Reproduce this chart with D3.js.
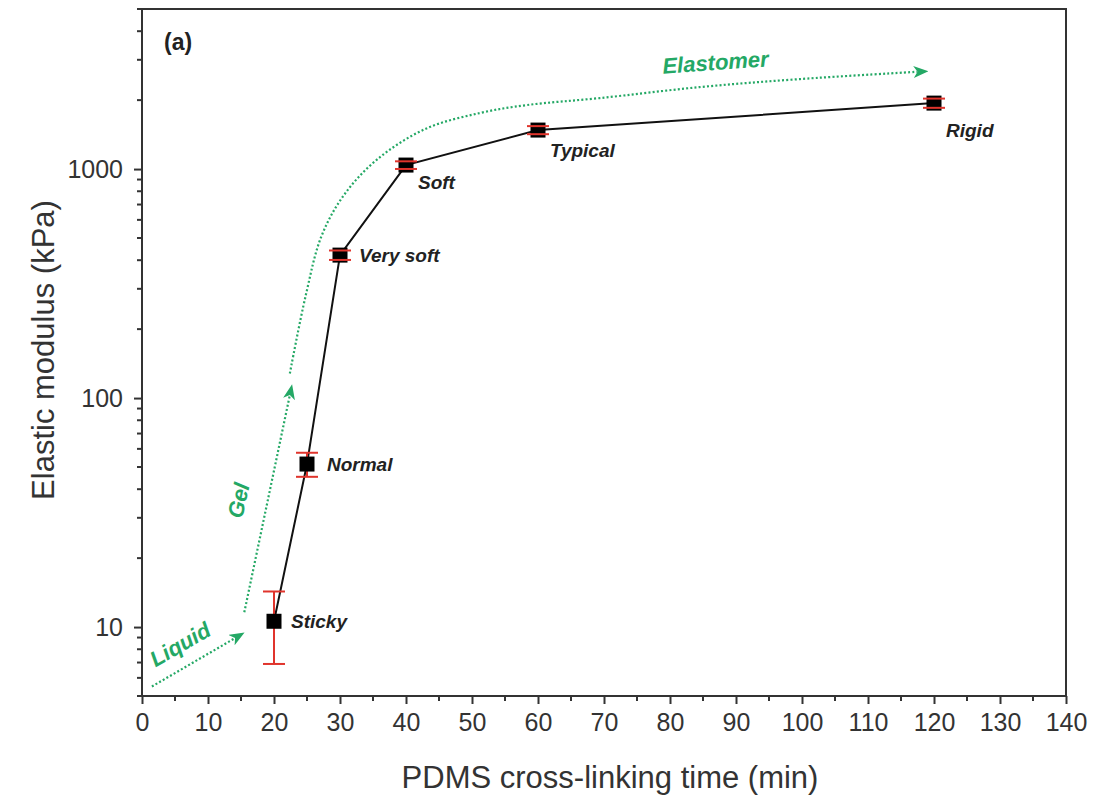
<!DOCTYPE html>
<html>
<head>
<meta charset="utf-8">
<script src="https://cdn.jsdelivr.net/npm/d3@7"></script>
<style>
  body { margin: 0; background: #fff; }
  text { font-family: "Liberation Sans", Arial, sans-serif; }
</style>
</head>
<body>
<svg id="chart" width="1096" height="805"></svg>
<script>

// measured samples
const times = [20, 25, 30, 40, 60, 120];
const moduli = [10.6, 51.5, 421, 1041, 1480, 1941];
const errors = [3.7, 6.2, 20, 40, 60, 90];
const names = ["Sticky", "Normal", "Very soft", "Soft", "Typical", "Rigid"];

const xTicks = [0, 10, 20, 30, 40, 50, 60, 70, 80, 90, 100, 110, 120, 130, 140];
const yTicks = [10, 100, 1000];

// green phase annotations, in data units [min, kPa]
const liquidPath = [[1.5, 5.5], [14.1, 8.95]];
const gelPath = [[15.5, 11.6], [22.4, 103]];
const elastomerPath = [[22.4, 128], [24.8, 280], [27.2, 510], [30.6, 770], [35.6, 1100],
  [43.0, 1500], [51.2, 1757], [58.3, 1903], [69.4, 2042], [84.5, 2280], [99.7, 2472], [117.5, 2660]];

const data = times.map((t, i) => ({t, v: moduli[i], e: errors[i], name: names[i]}));

const m = {left: 142, right: 1066, top: 9, bottom: 696};
const green = "#24a865";

const svg = d3.select("#chart");

const x = d3.scaleLinear().domain([0, 140]).range([m.left, m.right]);
const y = d3.scaleLog().domain([5, 5000]).range([m.bottom, m.top]);

// label offsets from each point (px)
const labelOff = {
  "Sticky": [17, 7], "Normal": [20, 7], "Very soft": [19, 7],
  "Soft": [12, 24], "Typical": [12, 27], "Rigid": [12, 34]
};

// frame
svg.append("rect")
    .attr("x", m.left).attr("y", m.top)
    .attr("width", m.right - m.left).attr("height", m.bottom - m.top)
    .attr("fill", "none").attr("stroke", "#333").attr("stroke-width", 2);

// x axis
const xMinor = d3.range(5, 140, 10);
const gx = svg.append("g").attr("transform", `translate(0,${m.bottom})`);
gx.call(d3.axisBottom(x).tickValues(xTicks).tickSize(8).tickPadding(9).tickFormat(d3.format("d")));
gx.append("g").selectAll("line").data(xMinor).join("line")
    .attr("x1", d => x(d)).attr("x2", d => x(d))
    .attr("y1", 0).attr("y2", 5)
    .attr("stroke", "#333").attr("stroke-width", 2);

// y axis
const yMinor = [];
[1, 10, 100, 1000].forEach(dec => d3.range(2, 10).forEach(k => {
  const v = dec * k;
  if (v >= 5 && v <= 5000) yMinor.push(v);
}));
const gy = svg.append("g").attr("transform", `translate(${m.left},0)`);
gy.call(d3.axisLeft(y).tickValues(yTicks).tickSize(8).tickPadding(11).tickFormat(d3.format("d")));
gy.append("g").selectAll("line").data(yMinor).join("line")
    .attr("x1", 0).attr("x2", -5)
    .attr("y1", d => y(d)).attr("y2", d => y(d))
    .attr("stroke", "#333").attr("stroke-width", 2);

[gx, gy].forEach(g => {
  g.select(".domain").remove();
  g.selectAll(".tick line").attr("stroke", "#333").attr("stroke-width", 2);
  g.selectAll(".tick text").attr("fill", "#333")
      .style("font-family", "'Liberation Sans', Arial, sans-serif").style("font-size", "25px");
});

// axis titles
svg.append("text")
    .attr("x", 610).attr("y", 788)
    .attr("text-anchor", "middle").attr("fill", "#333")
    .style("font-size", "31px")
    .text("PDMS cross-linking time (min)");

svg.append("text")
    .attr("transform", `translate(54,350) rotate(-90)`)
    .attr("text-anchor", "middle").attr("fill", "#333")
    .style("font-size", "31px")
    .text("Elastic modulus (kPa)");

svg.append("text")
    .attr("x", 164).attr("y", 50)
    .attr("fill", "#222").style("font-size", "23px").style("font-weight", "bold")
    .text("(a)");

// arrow marker
svg.append("defs").append("marker")
    .attr("id", "arrow")
    .attr("viewBox", "0 -6 15 12")
    .attr("refX", 4).attr("refY", 0)
    .attr("markerWidth", 15).attr("markerHeight", 12)
    .attr("markerUnits", "userSpaceOnUse")
    .attr("orient", "auto")
  .append("path")
    .attr("d", "M0,-6 L15,0 L0,6 L4,0 Z")
    .attr("fill", green);

const pline = d3.line().x(d => x(d[0])).y(d => y(d[1]));
const cline = d3.line().x(d => x(d[0])).y(d => y(d[1])).curve(d3.curveCatmullRom);

[[liquidPath, pline], [gelPath, pline], [elastomerPath, cline]].forEach(([p, ln]) => {
  svg.append("path")
      .attr("d", ln(p))
      .attr("fill", "none")
      .attr("stroke", green)
      .attr("stroke-width", 2.2)
      .attr("stroke-dasharray", "2,2.2")
      .attr("marker-end", "url(#arrow)");
});

function angleOf(p) {
  const a = p[0], b = p[p.length - 1];
  return Math.atan2(y(b[1]) - y(a[1]), x(b[0]) - x(a[0])) * 180 / Math.PI;
}

const phaseText = [
  {text: "Liquid", cx: 184, cy: 651, rot: angleOf(liquidPath)},
  {text: "Gel", cx: 246, cy: 502, rot: angleOf(gelPath)},
  {text: "Elastomer", cx: 716, cy: 70, rot: -4}
];
svg.append("g").selectAll("text").data(phaseText).join("text")
    .attr("transform", d => `translate(${d.cx},${d.cy}) rotate(${d.rot})`)
    .attr("text-anchor", "middle")
    .attr("fill", green)
    .style("font-size", "22px").style("font-weight", "bold").style("font-style", "italic")
    .text(d => d.text);

// data line
svg.append("path")
    .datum(data)
    .attr("d", d3.line().x(d => x(d.t)).y(d => y(d.v)))
    .attr("fill", "none").attr("stroke", "#111").attr("stroke-width", 2);

// error bar stems
const red = "#e0342c";
svg.append("g").selectAll("line").data(data).join("line")
    .attr("x1", d => x(d.t)).attr("x2", d => x(d.t))
    .attr("y1", d => y(d.v + d.e)).attr("y2", d => y(d.v - d.e))
    .attr("stroke", red).attr("stroke-width", 2);

// markers
const ms = 15;
svg.append("g").selectAll("rect").data(data).join("rect")
    .attr("x", d => x(d.t) - ms / 2).attr("y", d => y(d.v) - ms / 2)
    .attr("width", ms).attr("height", ms)
    .attr("fill", "#000");

// error bar caps
const caps = data.flatMap(d => [d.v + d.e, d.v - d.e].map(v => ({t: d.t, v})));
svg.append("g").selectAll("line").data(caps).join("line")
    .attr("x1", d => x(d.t) - 11).attr("x2", d => x(d.t) + 11)
    .attr("y1", d => y(d.v)).attr("y2", d => y(d.v))
    .attr("stroke", red).attr("stroke-width", 2);

// point labels
svg.append("g").selectAll("text").data(data).join("text")
    .attr("x", d => x(d.t) + labelOff[d.name][0])
    .attr("y", d => y(d.v) + labelOff[d.name][1])
    .attr("fill", "#222")
    .style("font-size", "19px").style("font-weight", "bold").style("font-style", "italic")
    .text(d => d.name);

</script>
</body>
</html>
